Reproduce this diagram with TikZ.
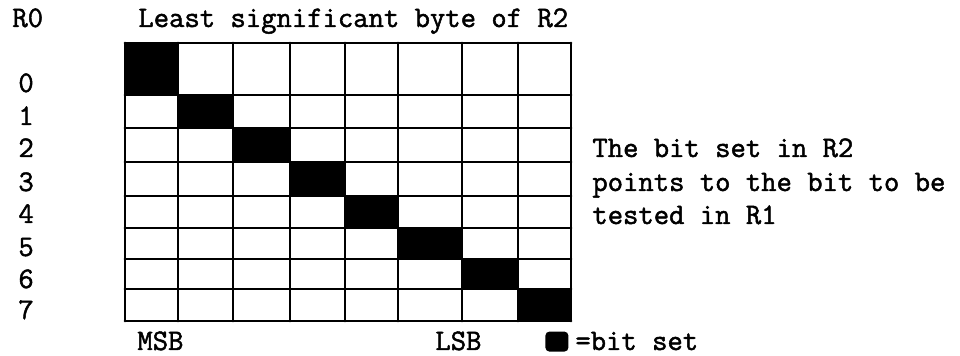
\documentclass[tikz,border=0pt]{standalone}
\usepackage{fontspec}
\newfontfamily\tw{Latin Modern Mono}[FakeBold=1.6]
\begin{document}
\begin{tikzpicture}[x=0.5pt,y=-0.5pt,
  lbl/.style={font=\tw\fontsize{14.9}{17}\selectfont, inner sep=0pt, anchor=base west},
  gridline/.style={line width=1.4pt, line cap=round},
  bitset/.style={fill=black}]
\useasboundingbox (0,0) rectangle (960,356);

% set bits: one per row, on the diagonal
\foreach \xa/\xb/\ya/\yb in {125/178/43/95, 178/233/95/128, 233/290/128/162,
    290/345/162/196, 345/398/196/228, 398/462/228/259, 462/518/259/289, 518/571/289/321}
  \fill[bitset] (\xa,\ya) rectangle (\xb,\yb);

% grid of 8 x 8 bit cells
\foreach \x in {125,178,233,290,345,398,462,518,571}
  \draw[gridline] (\x,43) -- (\x,321);
\foreach \y in {43,95,128,162,196,228,259,289,321}
  \draw[gridline] (125,\y) -- (571,\y);

% headings
\node[lbl] (r0) at (12,27) {R0};
\node[lbl] (lsb) at (138,27) {Least significant byte of R2};

% row numbers
\foreach \n/\y in {0/92,1/125,2/157,3/191,4/223,5/256,6/288,7/319}
  \node[lbl] (row\n) at (18,\y) {\n};

% bit order
\node[lbl] (msbl) at (137,350) {MSB};
\node[lbl] (lsbl) at (435,350) {LSB};

% explanation
\node[lbl] (note1) at (592,157) {The bit set in R2};
\node[lbl] (note2) at (592,191) {points to the bit to be};
\node[lbl] (note3) at (592,224) {tested in R1};

% legend
\node[bitset, rounded corners=2pt, minimum width=11.5pt, minimum height=10pt,
  inner sep=0pt, anchor=south west] (key) at (545,352) {};
\node[lbl] (keytext) at (575,350) {=bit set};
\end{tikzpicture}
\end{document}
